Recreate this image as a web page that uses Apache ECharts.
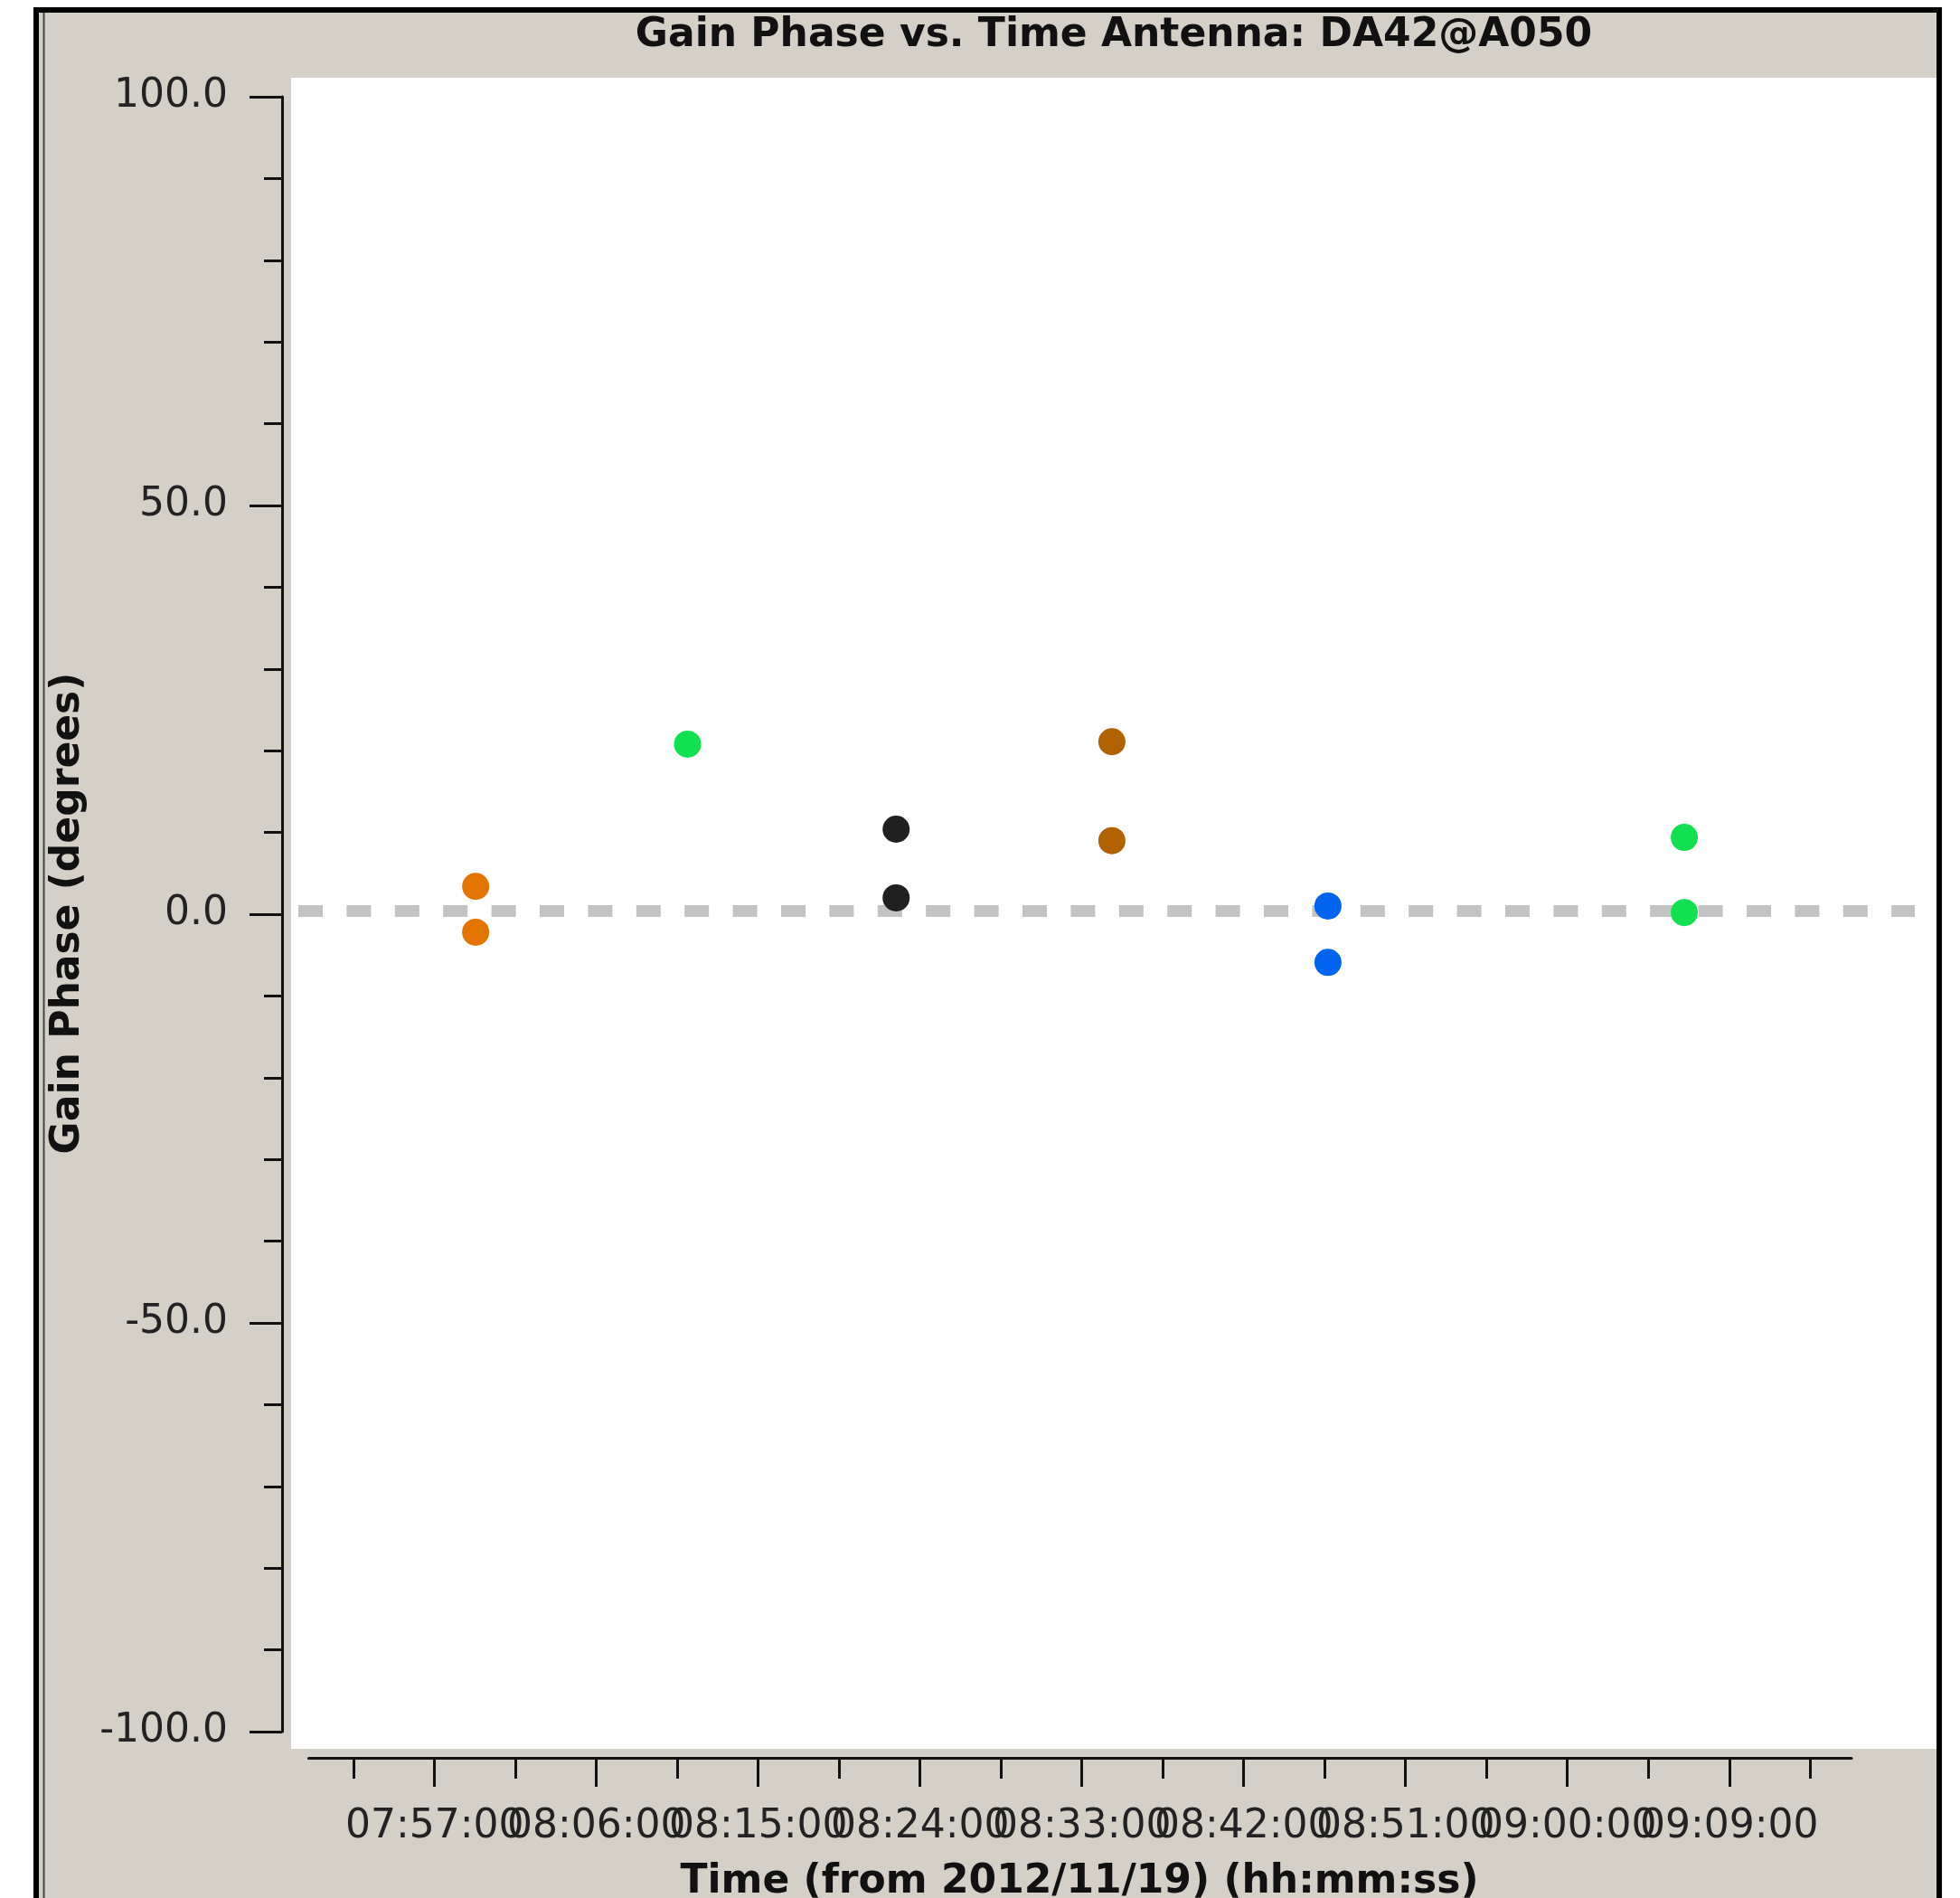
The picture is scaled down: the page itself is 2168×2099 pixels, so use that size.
<!DOCTYPE html>
<html><head><meta charset="utf-8">
<script src="https://cdn.jsdelivr.net/npm/echarts@6/dist/echarts.min.js"></script>
<style>html,body{margin:0;padding:0;background:#fff}#c{width:2168px;height:2099px}</style>
</head><body><div id="c"></div>
<script>
// ---- data ----
const chartTitle = 'Gain Phase vs. Time Antenna: DA42@A050';
const xAxisTitle = 'Time (from 2012/11/19) (hh:mm:ss)';
const yAxisTitle = 'Gain Phase (degrees)';
const scanTimes  = ['07:59:17', '08:11:04', '08:22:40', '08:34:40', '08:46:41', '09:06:30'];
const phaseUpper = [3.4, 20.8, 10.4, 21.1, 1.0, 9.4];
const phaseLower = [-2.2, null, 2.0, 9.0, -5.9, 0.2];
const xMajorTicks = ['07:57:00', '08:06:00', '08:15:00', '08:24:00', '08:33:00', '08:42:00', '08:51:00', '09:00:00', '09:09:00'];
const xMinorTicks = ['07:52:30', '08:01:30', '08:10:30', '08:19:30', '08:28:30', '08:37:30', '08:46:30', '08:55:30', '09:04:30', '09:13:30'];
const xRange = ['07:50:00', '09:15:48'];
const yMin = -100, yMax = 100, yStep = 50;
const referencePhase = 0;

// ---- styles ----
const scanColors = ['#e27500', '#12e050', '#202020', '#b06200', '#0064f0', '#12e050'];
const FONT = 'DejaVu Sans';
const BG = '#d4d0c8';

function toMin(s) { const p = s.split(':').map(Number); return p[0] * 60 + p[1] + (p[2] || 0) / 60; }
function fmt(m) {
  const tot = Math.round(m * 60);
  const h = Math.floor(tot / 3600), mi = Math.floor((tot % 3600) / 60), se = tot % 60;
  const z = n => String(n).padStart(2, '0');
  return z(h) + ':' + z(mi) + ':' + z(se);
}

const series = scanTimes.map((t, i) => {
  const d = [];
  if (phaseUpper[i] != null) d.push([toMin(t), phaseUpper[i]]);
  if (phaseLower[i] != null) d.push([toMin(t), phaseLower[i]]);
  return {
    type: 'scatter', name: 'scan ' + (i + 1), data: d, xAxisIndex: 0, yAxisIndex: 0,
    symbol: 'circle', symbolSize: 30, z: 5,
    itemStyle: { color: scanColors[i], opacity: 1 }
  };
});

const chart = echarts.init(document.getElementById('c'), null, { renderer: 'canvas' });
const xMin = toMin(xRange[0]), xMax = toMin(xRange[1]);
const majorVals = xMajorTicks.map(toMin);
const majorEven = majorVals.filter((v, i) => i % 2 === 0);
const majorOdd = majorVals.filter((v, i) => i % 2 === 1);
const tickStyle = { color: '#111', width: 3 };
const labelStyle = { fontFamily: FONT, fontSize: 44, color: '#222', margin: 55, formatter: v => fmt(v),
  showMinLabel: true, showMaxLabel: true, hideOverlap: false, interval: 0 };
function xAxisDef(showLine, tickVals, tickLen, labelVals) {
  return {
    type: 'value', min: xMin, max: xMax, position: 'bottom', offset: 29,
    splitLine: { show: false },
    axisLine: { show: showLine, onZero: false, lineStyle: tickStyle },
    axisTick: { show: true, length: tickLen, inside: false, interval: 0, customValues: tickVals, lineStyle: tickStyle },
    axisLabel: labelVals ? Object.assign({ show: true, customValues: labelVals }, labelStyle) : { show: false }
  };
}
function staticGraphics() {
  return [
    { type: 'rect', z: -20, shape: { x: 40, y: 11, width: 2105, height: 2150 }, style: { fill: BG, stroke: '#000', lineWidth: 6 } },
    { type: 'line', z: -19, shape: { x1: 48.5, y1: 14, x2: 48.5, y2: 2099 }, style: { stroke: '#444', lineWidth: 2 } },
    { type: 'rect', z: -18, shape: { x: 322, y: 86, width: 1820, height: 1848 }, style: { fill: '#ffffff' } },
    { type: 'text', z: 10, x: 1232, y: 40, style: { text: chartTitle, font: 'bold 44px "DejaVu Sans"', fill: '#111', align: 'center', verticalAlign: 'middle' } },
    { type: 'text', z: 10, x: 1194, y: 2082, style: { text: xAxisTitle, font: 'bold 44px "DejaVu Sans"', fill: '#111', align: 'center', verticalAlign: 'middle' } },
    { type: 'text', z: 10, x: 76, y: 1010, rotation: Math.PI / 2, style: { text: yAxisTitle, font: 'bold 44px "DejaVu Sans"', fill: '#111', align: 'center', verticalAlign: 'middle' } }
  ];
}
chart.setOption({
  animation: false,
  backgroundColor: '#ffffff',
  grid: { left: 341.5, right: 120, top: 107, bottom: 184, containLabel: false },
  xAxis: [
    xAxisDef(true, majorEven, 32, majorEven),
    xAxisDef(false, majorOdd, 32, majorOdd),
    xAxisDef(false, xMinorTicks.map(toMin), 23, null)
  ],
  yAxis: {
    type: 'value', min: yMin, max: yMax, interval: yStep, position: 'left', offset: 29.5,
    axisLine: { show: true, onZero: false, lineStyle: tickStyle },
    axisTick: { show: true, length: 36, inside: false, lineStyle: tickStyle },
    minorTick: { show: true, splitNumber: 5, length: 20, lineStyle: tickStyle },
    splitLine: { show: false }, minorSplitLine: { show: false },
    axisLabel: { formatter: v => v.toFixed(1), margin: 60, fontFamily: FONT, fontSize: 44, color: '#222',
      padding: [6, 0, 0, 0], showMinLabel: true, showMaxLabel: true }
  },
  series: series,
  graphic: staticGraphics()
});

// reference dashed line at zero phase, spanning the plotting canvas
const yRef = chart.convertToPixel({ yAxisIndex: 0 }, referencePhase);
chart.setOption({
  graphic: staticGraphics().concat([
    { type: 'line', z: -5, shape: { x1: 330, y1: yRef - 3.5, x2: 2118, y2: yRef - 3.5 }, style: { stroke: '#c3c3c3', lineWidth: 13, lineDash: [27, 26.4], lineCap: 'butt' } }
  ])
}, { replaceMerge: ['graphic'] });
</script></body></html>
